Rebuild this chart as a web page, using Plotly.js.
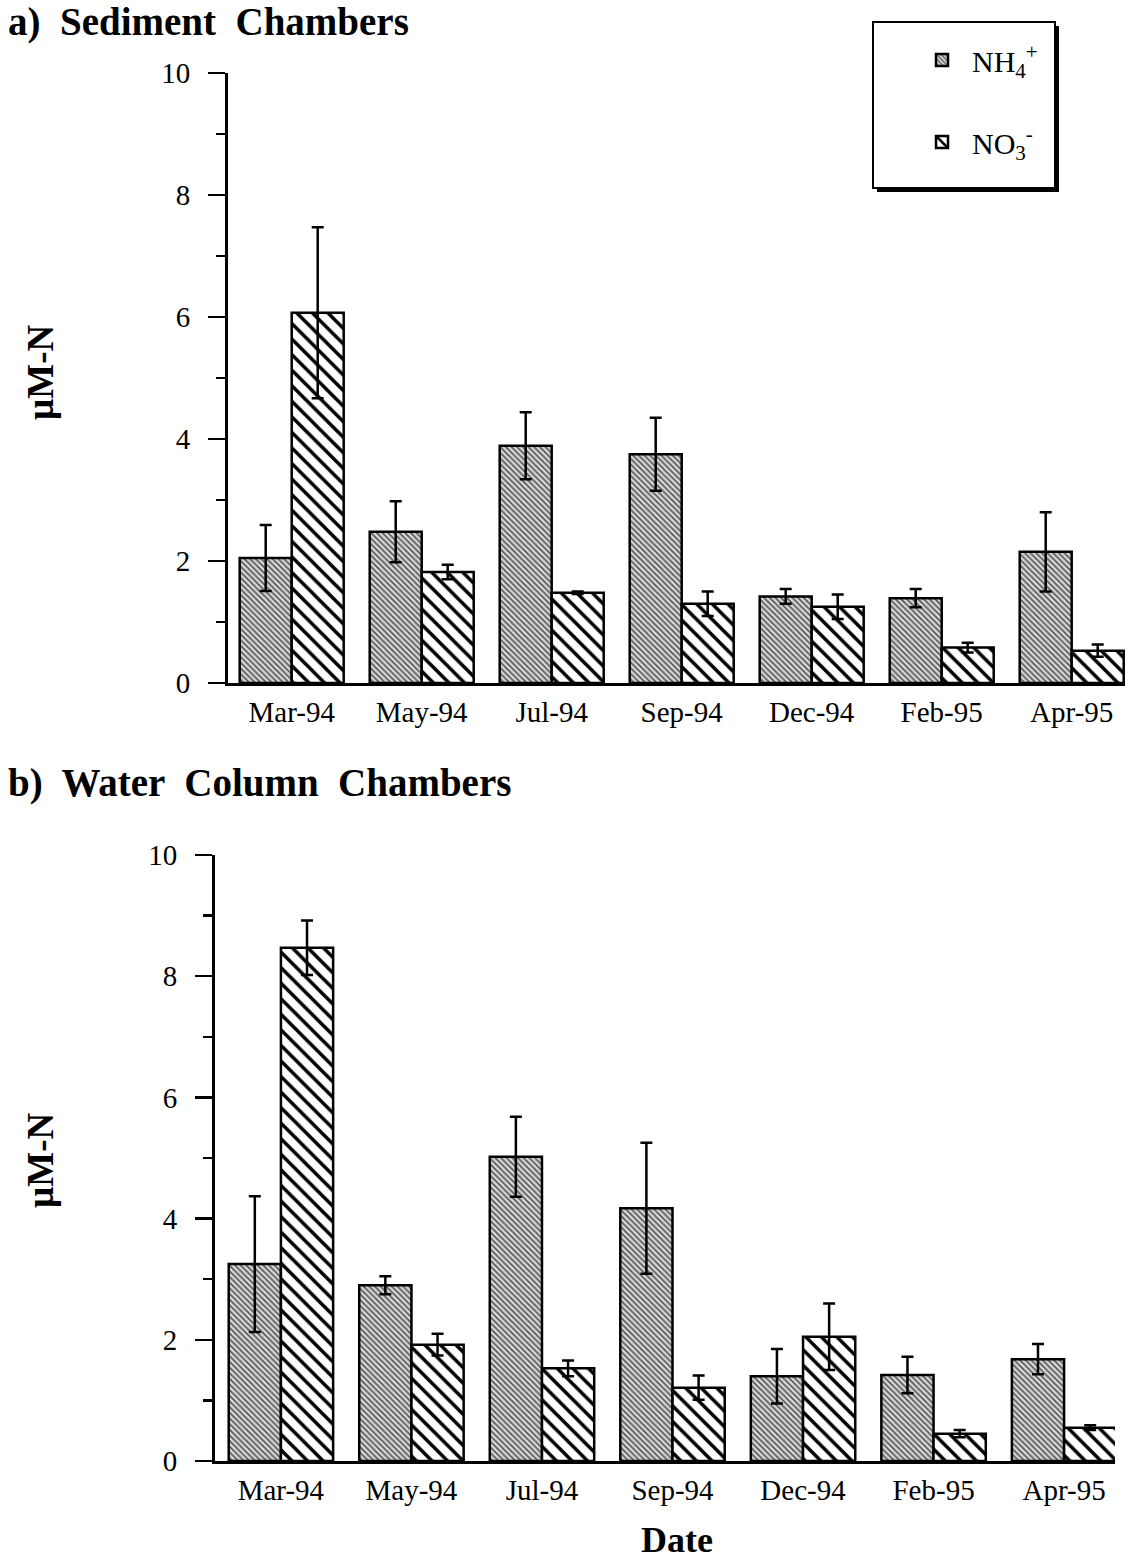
<!DOCTYPE html>
<html>
<head>
<meta charset="utf-8">
<script src="https://cdn.plot.ly/plotly-3.0.1.min.js"></script>
<style>html,body{margin:0;padding:0;background:#fff;}#chart{width:1141px;height:1562px;}</style>
</head>
<body>
<div id="chart"></div>
<script>
// ---- data ----
const categories = ['Mar-94','May-94','Jul-94','Sep-94','Dec-94','Feb-95','Apr-95'];
const sedNH4    = [2.05, 2.48, 3.89, 3.75, 1.42, 1.39, 2.15];
const sedNH4Err = [0.54, 0.50, 0.55, 0.60, 0.12, 0.15, 0.65];
const sedNO3    = [6.07, 1.82, 1.48, 1.30, 1.25, 0.58, 0.53];
const sedNO3Err = [1.40, 0.12, 0.02, 0.20, 0.20, 0.08, 0.10];
const watNH4    = [3.25, 2.90, 5.02, 4.17, 1.40, 1.42, 1.68];
const watNH4Err = [1.12, 0.15, 0.66, 1.08, 0.45, 0.30, 0.25];
const watNO3    = [8.47, 1.92, 1.53, 1.21, 2.05, 0.45, 0.55];
const watNO3Err = [0.45, 0.18, 0.13, 0.20, 0.55, 0.06, 0.04];
const yTicks = [0, 2, 4, 6, 8, 10];

// ---- styling ----
const W = 1141, H = 1562;
const px = x => x / W;
const py = y => 1 - y / H;
const serif = 'Liberation Serif, Times New Roman, serif';

const nh4Marker = {
  color: '#bdbdbd',
  line: {color: '#000', width: 2.5},
  pattern: {shape: '\\', size: 4, solidity: 0.4, fgcolor: '#555', bgcolor: '#d8d8d8', fillmode: 'replace'}
};
const no3Marker = {
  color: '#fff',
  line: {color: '#000', width: 2.5},
  pattern: {shape: '\\', size: 11, solidity: 0.32, fgcolor: '#000', bgcolor: '#fff', fillmode: 'replace'}
};
function err(a) { return {type: 'data', array: a, visible: true, color: '#000', thickness: 2.5, width: 6}; }

const traces = [
  {type: 'bar', x: categories, y: sedNH4, error_y: err(sedNH4Err), marker: nh4Marker,
   name: 'NH<sub>4</sub><sup>+</sup>', legendgroup: 'a', xaxis: 'x', yaxis: 'y'},
  {type: 'bar', x: categories, y: sedNO3, error_y: err(sedNO3Err), marker: no3Marker,
   name: 'NO<sub>3</sub><sup>-</sup>', legendgroup: 'b', xaxis: 'x', yaxis: 'y'},
  {type: 'bar', x: categories, y: watNH4, error_y: err(watNH4Err), marker: nh4Marker,
   name: 'NH4', showlegend: false, xaxis: 'x2', yaxis: 'y2'},
  {type: 'bar', x: categories, y: watNO3, error_y: err(watNO3Err), marker: no3Marker,
   name: 'NO3', showlegend: false, xaxis: 'x2', yaxis: 'y2'}
];

const tickFont = {family: serif, size: 29, color: '#000'};
function yax(domain, anchor) {
  return {
    domain: domain, anchor: anchor, range: [0, 10], tickvals: yTicks,
    ticks: 'outside', ticklen: 17, tickwidth: 2.5, tickcolor: '#000',
    minor: {dtick: 1, ticks: 'outside', ticklen: 9, tickwidth: 2.5, tickcolor: '#000'},
    showline: true, linecolor: '#000', linewidth: 3, showgrid: false, zeroline: false,
    tickfont: tickFont, ticklabelstandoff: 12, fixedrange: true
  };
}
function xax(domain, anchor, range) {
  return {
    domain: domain, anchor: anchor, type: 'category', range: range,
    showline: true, linecolor: '#000', linewidth: 3, ticks: '', showgrid: false,
    tickfont: tickFont, ticklabelstandoff: 1, fixedrange: true
  };
}

const layout = {
  width: W, height: H,
  margin: {l: 0, r: 0, t: 0, b: 0},
  paper_bgcolor: '#fff', plot_bgcolor: 'rgba(0,0,0,0)',
  barmode: 'group', bargap: 0.2, bargroupgap: 0,
  xaxis: xax([px(228), px(1125)], 'y', [-0.49, 6.41]),
  yaxis: yax([py(683), py(73)], 'x'),
  xaxis2: xax([px(215), px(1115)], 'y2', [-0.505, 6.39]),
  yaxis2: yax([py(1461), py(855)], 'x2'),
  showlegend: true,
  legend: {
    x: px(912), y: py(34), xanchor: 'left', yanchor: 'top',
    bgcolor: 'rgba(0,0,0,0)', borderwidth: 0,
    font: {family: serif, size: 30, color: '#000'},
    tracegroupgap: 40, itemwidth: 50
  },
  shapes: [
    {type: 'rect', xref: 'paper', yref: 'paper', x0: px(877), x1: px(1059), y0: py(192), y1: py(26),
     fillcolor: '#000', line: {width: 0}, layer: 'above'},
    {type: 'rect', xref: 'paper', yref: 'paper', x0: px(873), x1: px(1055), y0: py(188), y1: py(22),
     fillcolor: '#fff', line: {color: '#000', width: 2}, layer: 'above'}
  ],
  annotations: [
    {text: '<b>a)  Sediment  Chambers</b>', xref: 'paper', yref: 'paper', x: px(6), y: py(22),
     xanchor: 'left', yanchor: 'middle', showarrow: false, font: {family: serif, size: 39, color: '#000'}},
    {text: '<b>b)  Water  Column  Chambers</b>', xref: 'paper', yref: 'paper', x: px(6), y: py(783),
     xanchor: 'left', yanchor: 'middle', showarrow: false, font: {family: serif, size: 39, color: '#000'}},
    {text: '<b>µM-N</b>', xref: 'paper', yref: 'paper', x: px(40), y: py(372), textangle: -90,
     xanchor: 'center', yanchor: 'middle', showarrow: false, font: {family: serif, size: 37, color: '#000'}},
    {text: '<b>µM-N</b>', xref: 'paper', yref: 'paper', x: px(40), y: py(1160), textangle: -90,
     xanchor: 'center', yanchor: 'middle', showarrow: false, font: {family: serif, size: 37, color: '#000'}},
    {text: '<b>Date</b>', xref: 'paper', yref: 'paper', x: px(677), y: py(1540),
     xanchor: 'center', yanchor: 'middle', showarrow: false, font: {family: serif, size: 36, color: '#000'}}
  ]
};

Plotly.newPlot('chart', traces, layout, {displayModeBar: false, staticPlot: true});
</script>
</body>
</html>
